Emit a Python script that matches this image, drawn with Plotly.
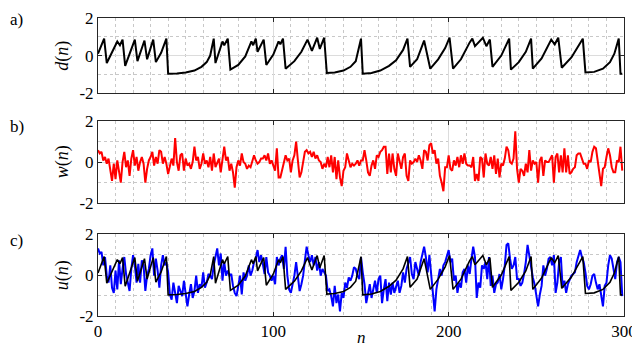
import plotly.graph_objects as go
from plotly.subplots import make_subplots

# d(n): breakpoints of the black reference signal (sample index, value)
d_n = [0, 3.5, 5, 11, 12.5, 14, 15.5, 21, 22.5, 26.5, 28, 31.5, 33, 36, 39, 40,
       45, 50, 55, 59, 62, 64, 66, 67, 71, 72, 74, 75.5, 80, 84, 87.5, 88.5, 90,
       91, 94.5, 96, 100, 103, 104, 105.5, 107, 112, 116, 119.5, 122, 125, 126.5,
       129, 130.5, 135, 140, 144, 147, 150, 151, 156, 161, 166, 170, 174, 176.5,
       178, 182, 186, 189.5, 194, 198, 200.5, 202.5, 207, 212, 213.5, 215, 219.5,
       221.5, 223.5, 225, 230, 234.5, 235.5, 240, 244, 247, 248, 253, 258.5,
       260.5, 262.5, 264.5, 270, 276.5, 278, 283, 288, 292, 294.5, 297, 298, 299]
d_val = [0.1, 0.9, -0.4, 0.75, 0.55, 0.85, -0.55, 0.85, -0.3, 0.8, -0.2, 0.85,
         -0.35, 0.15, 0.9, -0.97, -0.95, -0.9, -0.8, -0.6, -0.35, 0.0, 0.9, -0.4,
         0.75, 0.55, 0.9, -0.75, -0.5, -0.05, 0.75, 0.55, 0.9, 0.2, 0.85, -0.5,
         0.05, 0.75, 0.6, 0.9, -0.7, -0.3, 0.2, 0.85, 0.25, 0.95, 0.35, 0.95,
         -0.93, -0.9, -0.8, -0.6, -0.3, 0.9, -0.97, -0.93, -0.8, -0.55, -0.25, 0.3,
         0.9, -0.6, -0.2, 0.8, -0.7, -0.2, 0.4, 0.95, -0.7, -0.2, 0.7, 0.9, 0.5,
         0.95, 0.5, 0.85, -0.6, 0.0, 0.9, -0.75, -0.35, 0.2, 0.9, -0.7, -0.15,
         0.85, 0.6, 0.95, -0.65, -0.1, 0.9, -0.9, -0.87, -0.7, -0.35, 0.1, 0.9,
         -0.97, -0.97]

# w(n): red noise, one value per sample
w_val = [
    0.58, 0.42, 0.5, 0.08, 0.25, -0.08, 0.17, -0.33, -0.92, -0.08,
    -0.83, 0.08, -0.42, -1.0, 0, 0.5, -0.25, 0.08, -0.67, 0.17,
    0.58, -0.17, 0.25, -0.42, 0, 0.25, -0.08, -1.0, -0.33, 0.08,
    0.25, 0.5, -0.17, 0.25, -0.08, 0.58, 0.5, -0.08, 0.25, -0.08,
    -0.58, -0.25, 0.17, -0.17, 1.17, 0, -0.42, 0.33, 0.42, -0.42,
    0.17, -0.17, -0.08, -0.33, 0, 0.75, 0.08, 0.25, -0.33, -0.08,
    0.42, -0.08, 0.08, -0.25, 0.25, -0.42, 0.42, -0.25, 0, 0.17,
    -0.5, 0.08, 0.75, 0.08, 0.25, -0.42, -0.08, -0.5, -1.25, -0.25,
    0.08, -0.17, 0.42, 0, -0.08, -0.33, -0.17, -0.25, 0.08, 0.33,
    0.08, -0.08, 0, 0.17, 0.17, 0.33, 0.08, 0.42, -0.08, 0.08,
    -0.17, -0.42, 0.67, -0.75, -0.75, -0.33, 0, 0.33, 0.08, 0.17,
    -0.5, 0.08, 0.33, 1.0, 0.08, -0.75, -0.5, 0.08, 0.5, 0.58,
    0.42, 0.5, 0.25, 0.5, 0.17, 0.33, 0.08, 0, -0.33, -0.08,
    -0.25, 0.25, -0.25, 0.33, -0.5, 0.25, -0.83, 0.08, -0.75, -1.17,
    -0.42, -0.25, 0.42, 0.08, -0.25, -0.08, -0.17, -0.08, 0.08, -0.17,
    0.08, 0.08, 0.58, 0.08, -0.5, -0.67, -0.17, 0.08, -0.33, 0.33,
    0.25, 0.5, 0.58, 0.75, 0.75, -0.58, 0.42, -0.5, 0.42, -0.33,
    -0.67, 0.42, 0.08, -0.33, 0.25, 0.42, -0.67, -0.92, 0.08, -0.08,
    0, 0.17, 0, 0.33, 0.08, -0.33, 0.58, 0.5, 0.08, 0.83,
    0.92, 0.42, 0.58, -0.08, 0.17, -0.67, -1.0, -1.42, -0.25, -0.25,
    0.33, -0.33, -0.42, 0.08, -0.17, 0.25, -0.25, 0.33, -0.08, 0.42,
    -0.08, -0.17, -0.17, -0.25, 0.25, -0.92, -0.58, -0.92, 0.25,
    0.17, -0.75, 0.42, -0.08, -0.17, 0.25, -0.33, 0.33, -0.58, 0.17,
    -0.75, -0.08, -0.17, 0.17, 0.75, 0.58, 0, -0.08, 0.17, 1.5,
    -0.33, -1.0, -0.33, -0.42, -0.67, -0.08, -0.5, 0.58, -0.42,
    0.08, -0.08, 0, -1.0, 0.08, 0.25, -0.67, 0.08, 0,
    0, 0.17, 0.33, -1.0, 0.25, 0.42, -0.5, 0.33, -0.5, 0.67,
    -0.5, 0.33, -0.58, -0.5, -0.33, -0.25, 0.33, 0.42, 0.42,
    0.17, -0.08, -0.08, -0.33, 0.08, 0, 0.5, 0.75, 0.67,
    0.08, -0.33, -1.17, -0.33, -0.25, 0.25, 0.67, 0.33, -0.25, -0.5,
    -0.5, 0.08, 0, 0.75, -0.42]

# u(n): blue observed signal, one value per sample
u_val = [
    1.3, 1.05, 1.13, 0.47, 0.88, -0.03, -0.37, 0.47, -0.62, -0.87,
    0.22, -0.7, 0.72, -0.45, 0.3, 0.88, 0.05, -0.45, -0.78,
    0.3, 0.97, 0.47, -0.37, 0.55, -0.37, 0.72, 0.47, -0.78, -0.03,
    0.3, 0.97, 1.3, -0.03, 0.8, 0.22, -0.62, 0.47, 0.97, 0.47,
    0.63, 0.13, -0.95, -1.2, -0.37, -0.87, -1.37, -0.53, -0.78,
    -1.03, -0.28, -0.95, -1.53, -0.95, -0.45, -1.12, -0.78, -0.03, -0.87,
    -0.45, -0.62, 0.13, -0.62, -0.37, 0.05, -0.03, -0.2, 0.47,
    0.97, 1.3, 0.47, 1.05, -0.28, 0.63, -0.03, 0.22, -0.03, 0.05,
    -0.53, -0.87, -1.03, -0.53, -0.03, -0.95, 0.13, -0.28, -0.03,
    0.47, -0.03, 0.22, 0.63, 0.8, 1.22, 0.63, 0.97, 0.55, 0.05,
    0.88, 0.13, -0.03, -0.28,
    -0.03, -0.45, 0.88, 0.47, 0.8, 0.97, 0.3, 1.38, -0.03, -0.7,
    -0.87, -0.45, -0.03, 0.63, -0.03, -0.78, -0.45, -0.03, 0.72, 1.38,
    0.97, 0.63, 0.97, 0.47, 0.88, 0.22, 0.63, -0.03, 0.3,
    0.13, -0.03, -0.78, -0.7, -1.03, -1.53, -0.53, -1.37, -0.95, -1.78,
    -0.87, -1.12, -0.37, -0.62, -0.12, -0.28, -0.03, 0.38, 0.3,
    -0.03, -0.2, 0.88, 0.13, -0.45, -1.37, -0.87, -0.45, -1.12, -0.62,
    -0.28, -0.87, -0.2, -0.03, -1.37, -0.7, -0.2, -1.28, -0.37,
    -0.95, -0.37, -0.87, -0.53, -0.28, -0.87, -0.53, 0.13, -0.37, 0.3,
    0.55, 0.88, 0.05, -0.2, 0.63, 0.22, -0.03, 0.63, 0.97,
    1.38, 0.88, 0.13, 0.97, -0.03, -1.03, -1.78, -0.7, -0.2, 0.3,
    -0.03, 0.47, 0.63, 0.88,
    1.22, 0.63, 0.8, -0.28, -0.03, -0.87, -0.37, -0.62, 0.13, 0.3,
    -0.37, 0.47, 0.05, 0.8, 1.38, 0.88, -1.12, -0.37, -0.62, 0.47,
    0.3, 0.63, -0.2, 0.88, -0.53, -0.03, -0.87, -0.45, -0.37,
    0.05, -0.7, -0.2, 0.47, 1.47, 1.55, 0.8, 0.3, 0.47, 0.88,
    -0.2, -0.2, -0.53, -0.37, 0.05, 0.63, 1.47, 0.97, 0.3,
    -0.12, -0.45, -1.03, -1.53, -0.95, -0.53, 0.47, -0.03, 0.3, 0.8,
    0.88, 0.47, 0.97, -0.87, -0.37, 0.63, 0.88, -0.62, -0.28,
    -0.87, -0.45, -0.2, -0.03, 0.05, 0.13, 0.63, 0.88, 1.22, 0.88,
    0.63, 0.13, -0.53, -0.7, -0.45, -0.03, 0.05, -0.37, -0.7,
    -0.45, -0.95, -1.53, -0.53, -0.37, 0.47, 0.97, 0.8, 0.3, -0.2,
    0.63, 0.88, 0.63, -1.03]

n = list(range(len(w_val)))
un = list(range(len(u_val)))

x_ticks = [0, 100, 200, 300]
y_ticks = [-2, 0, 2]
y_tick_text = ["-2", "0", "2"]
panel_tags = ["a)", "b)", "c)"]
y_titles = ["<i>d</i>(<i>n</i>)", "<i>w</i>(<i>n</i>)", "<i>u</i>(<i>n</i>)"]

font = "Liberation Serif"

fig = make_subplots(rows=3, cols=1, shared_xaxes=False)

fig.add_trace(go.Scatter(x=d_n, y=d_val, mode="lines",
                         line=dict(color="black", width=2)), row=1, col=1)
fig.add_trace(go.Scatter(x=n, y=w_val, mode="lines",
                         line=dict(color="#ff0000", width=2)), row=2, col=1)
fig.add_trace(go.Scatter(x=un, y=u_val, mode="lines",
                         line=dict(color="#0000ff", width=2)), row=3, col=1)
fig.add_trace(go.Scatter(x=d_n, y=d_val, mode="lines",
                         line=dict(color="black", width=1.6)), row=3, col=1)

domains = [[0.748, 1.0], [0.379, 0.654], [0.0, 0.275]]
tag_tops = [1.0336, 0.674, 0.292]
for i in range(3):
    xa = "xaxis" if i == 0 else f"xaxis{i + 1}"
    ya = "yaxis" if i == 0 else f"yaxis{i + 1}"
    fig.layout[xa].update(
        range=[0, 300], tickvals=x_ticks, showticklabels=(i == 2),
        automargin=False,
        ticks="inside", ticklen=4, tickcolor="#262626",
        showline=True, linecolor="#262626", linewidth=1, mirror="allticks",
        showgrid=True, gridcolor="#dcdcdc", gridwidth=1, zeroline=False,
        minor=dict(dtick=10, showgrid=True, gridcolor="#c8c8c8",
                   griddash="dot", gridwidth=1),
        tickfont=dict(family=font, size=17, color="black"),
    )
    fig.layout[ya].update(
        domain=domains[i], range=[-2, 2], tickvals=y_ticks, ticktext=y_tick_text,
        automargin=False,
        ticks="inside", ticklen=4, tickcolor="#262626",
        showline=True, linecolor="#262626", linewidth=1, mirror="allticks",
        showgrid=True, gridcolor="#dcdcdc", gridwidth=1, zeroline=False,
        minor=dict(dtick=1, showgrid=True, gridcolor="#c8c8c8",
                   griddash="dot", gridwidth=1),
        tickfont=dict(family=font, size=17, color="black"),
    )
    mid = (domains[i][0] + domains[i][1]) / 2
    fig.add_annotation(text=y_titles[i], xref="paper", yref="paper",
                       x=-0.068, y=mid, textangle=-90, showarrow=False,
                       xanchor="center", yanchor="middle",
                       font=dict(family=font, size=18, color="black"))
    fig.add_annotation(text=panel_tags[i], xref="paper", yref="paper",
                       x=-0.1711, y=tag_tops[i], showarrow=False,
                       xanchor="left", yanchor="top",
                       font=dict(family=font, size=17, color="black"))

fig.add_annotation(text="<i>n</i>", xref="paper", yref="paper",
                   x=0.5, y=-0.1107, showarrow=False,
                   xanchor="center", yanchor="bottom",
                   font=dict(family=font, size=17, color="black"))

# page body adds an 8px offset, so the figure is sized to the visible area
fig.update_layout(
    width=632, height=341, showlegend=False,
    plot_bgcolor="white", paper_bgcolor="white",
    margin=dict(l=90, r=16, t=10, b=33),
)

fig.write_html("out.html")
